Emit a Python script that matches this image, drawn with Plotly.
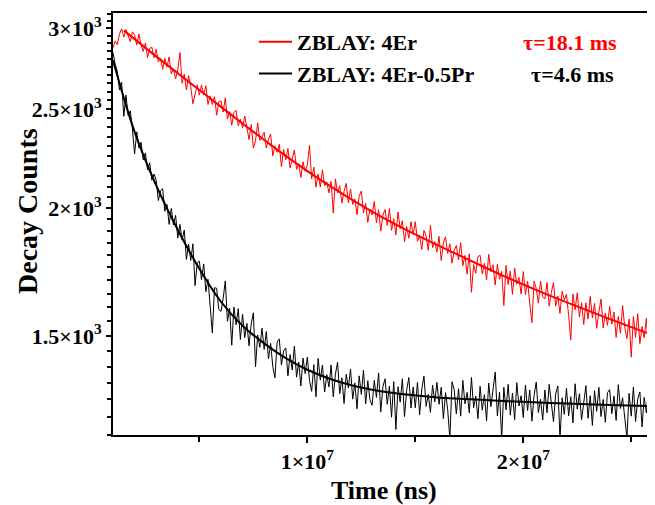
import numpy as np
import plotly.graph_objects as go

# sampling grid (ns): 1.0e6 ... 26.1e6 in steps of 1e5
time_ns = np.round(np.arange(1.0, 26.15, 0.1), 1) * 1e6

er_raw = [
    2870, 2915, 2890, 2960, 2995, 2940, 2990, 2945, 2910, 2975,
    2955, 2888, 2961, 2889, 2847, 2900, 2808, 2866, 2874, 2807,
    2860, 2780, 2804, 2734, 2803, 2748, 2812, 2707, 2736, 2676,
    2730, 2840, 2650, 2705, 2610, 2695, 2630, 2530, 2595, 2640,
    2580, 2640, 2580, 2635, 2526, 2576, 2526, 2571, 2466, 2542,
    2547, 2483, 2564, 2444, 2485, 2411, 2482, 2493, 2408, 2444,
    2395, 2461, 2398, 2334, 2415, 2290, 2328, 2424, 2330, 2347,
    2373, 2290, 2336, 2363, 2250, 2301, 2268, 2310, 2196, 2283,
    2230, 2288, 2190, 2243, 2280, 2183, 2210, 2143, 2220, 2173,
    2205, 2303, 2136, 2194, 2097, 2160, 2098, 2181, 2104, 2122,
    2070, 2124, 1978, 2136, 2070, 2104, 2023, 2077, 2115, 2024,
    2088, 2017, 2041, 1971, 2055, 2079, 1978, 2022, 1937, 1996,
    1970, 2030, 1935, 1994, 1899, 1969, 1994, 1924, 1998, 1903,
    1953, 1883, 1983, 1909, 1944, 1854, 1919, 1869, 1940, 1885,
    1940, 1856, 1881, 1822, 1902, 1878, 1819, 1924, 1830, 1855,
    1811, 1877, 1778, 1849, 1875, 1806, 1846, 1767, 1818, 1839,
    1780, 1851, 1757, 1798, 1724, 1805, 1655, 1761, 1727, 1793,
    1799, 1725, 1766, 1702, 1803, 1734, 1761, 1682, 1763, 1704,
    1735, 1606, 1758, 1684, 1736, 1647, 1748, 1685, 1711, 1648,
    1734, 1646, 1697, 1614, 1545, 1697, 1669, 1615, 1697, 1638,
    1630, 1692, 1604, 1655, 1692, 1604, 1641, 1578, 1659, 1626,
    1648, 1570, 1487, 1649, 1591, 1653, 1565, 1617, 1539, 1616,
    1558, 1640, 1562, 1614, 1526, 1583, 1630, 1527, 1579, 1536,
    1603, 1540, 1583, 1495, 1567, 1509, 1606, 1529, 1491, 1558,
    1430, 1567, 1495, 1577, 1474, 1532, 1494, 1561, 1449, 1516,
    1543, 1525,
]

erpr_raw = [
    2840, 2765, 2720, 2610, 2655, 2460, 2580, 2465, 2490, 2390,
    2260, 2375, 2290, 2320, 2230, 2265, 2180, 2215, 2130, 2160,
    2130, 2035, 2080, 2090, 1986, 2017, 1928, 1999, 1926, 1968,
    1870, 1928, 1861, 1904, 1782, 1845, 1778, 1846, 1680, 1767,
    1775, 1702, 1764, 1657, 1704, 1617, 1510, 1672, 1670, 1592,
    1585, 1631, 1698, 1550, 1597, 1469, 1601, 1538, 1595, 1488,
    1575, 1494, 1543, 1467, 1541, 1580, 1399, 1503, 1462, 1526,
    1455, 1515, 1425, 1475, 1400, 1365, 1480, 1490, 1405, 1450,
    1460, 1371, 1438, 1389, 1466, 1367, 1414, 1340, 1427, 1378,
    1430, 1357, 1324, 1406, 1308, 1426, 1358, 1405, 1322, 1375,
    1337, 1405, 1308, 1376, 1414, 1317, 1365, 1288, 1376, 1334,
    1392, 1301, 1349, 1273, 1371, 1315, 1389, 1287, 1356, 1299,
    1283, 1357, 1306, 1380, 1264, 1338, 1362, 1286, 1340, 1249,
    1353, 1215, 1338, 1292, 1362, 1251, 1327, 1366, 1275, 1337,
    1276, 1351, 1256, 1331, 1370, 1280, 1315, 1263, 1343, 1293,
    1351, 1286, 1336, 1245, 1320, 1270, 1190, 1353, 1329, 1258,
    1332, 1252, 1357, 1287, 1321, 1261, 1366, 1276, 1310, 1245,
    1339, 1269, 1314, 1239, 1349, 1279, 1333, 1383, 1253, 1322,
    1188, 1336, 1270, 1345, 1255, 1319, 1242, 1350, 1281, 1311,
    1248, 1343, 1268, 1328, 1238, 1312, 1352, 1262, 1301, 1241,
    1328, 1262, 1345, 1280, 1236, 1316, 1340, 1190, 1305, 1257,
    1333, 1253, 1308, 1233, 1347, 1272, 1317, 1242, 1297, 1341,
    1246, 1311, 1226, 1326, 1266, 1336, 1251, 1300, 1235, 1320,
    1329, 1259, 1310, 1240, 1344, 1274, 1305, 1250, 1192, 1318,
    1252, 1337, 1237, 1302, 1322, 1222, 1306, 1261, 1326, 1246,
    1195, 1360,
]

er_fit_t = [1.5e6, 3e6, 5e6, 7e6, 9e6, 11e6, 13e6, 15e6, 17e6, 19e6, 21e6, 23e6, 25e6, 26.1e6]
er_fit_v = [2985, 2815, 2610, 2420, 2250, 2105, 1985, 1885, 1800, 1720, 1650, 1588, 1530, 1500]

erpr_fit_t = [1e6, 2e6, 3e6, 4e6, 5e6, 6e6, 7e6, 8e6, 9e6, 10e6, 11e6, 12e6, 13e6, 14e6,
              15e6, 16e6, 18e6, 20e6, 22e6, 24e6, 26.1e6]
erpr_fit_v = [2790, 2375, 2105, 1905, 1745, 1620, 1535, 1475, 1427, 1390, 1363, 1343, 1329, 1319,
              1312, 1306, 1299, 1293, 1288, 1284, 1280]

x_major = [1e7, 2e7]
x_major_text = ["1×10<sup>7</sup>", "2×10<sup>7</sup>"]
x_minor = [5e6, 1.5e7, 2.5e7]
y_major = [1500, 2000, 2500, 3000]
y_major_text = ["1.5×10<sup>3</sup>", "2×10<sup>3</sup>", "2.5×10<sup>3</sup>", "3×10<sup>3</sup>"]
y_minor = [v for v in range(1200, 3101, 50) if v not in y_major]

label_er = "ZBLAY: 4Er"
label_erpr = "ZBLAY: 4Er-0.5Pr"
tau_er = "τ=18.1 ms"
tau_erpr = "τ=4.6 ms"

FONT = "Liberation Serif"
RED = "#FF0000"
BLACK = "#000000"

fig = go.Figure()
fig.add_trace(go.Scatter(x=time_ns, y=er_raw, mode="lines", line=dict(color=RED, width=1),
                         showlegend=False, hoverinfo="skip"))
fig.add_trace(go.Scatter(x=er_fit_t, y=er_fit_v, mode="lines", line=dict(color=RED, width=2, shape="spline"),
                         name=label_er))
fig.add_trace(go.Scatter(x=time_ns, y=erpr_raw, mode="lines", line=dict(color=BLACK, width=1),
                         showlegend=False, hoverinfo="skip"))
fig.add_trace(go.Scatter(x=erpr_fit_t, y=erpr_fit_v, mode="lines", line=dict(color=BLACK, width=2, shape="spline"),
                         name=label_erpr))

# the page has an 8px body margin; lay the figure out in page pixels
OFF = 8
W, H = 655 - OFF, 505 - OFF
L, R, T, B = 113 - OFF, 0, 13 - OFF, 505 - 435
pw, ph = W - L - R, H - T - B

def px(xp):
    return (xp - OFF - L) / pw

def py(yp):
    return 1 - (yp - OFF - T) / ph

fig.update_layout(
    width=W, height=H,
    margin=dict(l=L, r=R, t=T, b=B, autoexpand=False),
    paper_bgcolor="white", plot_bgcolor="white",
    font=dict(family=FONT, color="black", size=22, weight="bold"),
    legend=dict(x=px(254), y=py(21), xanchor="left", yanchor="top",
                bgcolor="rgba(0,0,0,0)", font=dict(family=FONT, size=22, weight="bold"),
                itemwidth=33, tracegroupgap=0),
    xaxis=dict(
        range=[1e6, 2.61e7], showgrid=False, zeroline=False,
        showline=True, linecolor="black", linewidth=2, mirror=True,
        ticks="outside", ticklen=6, tickwidth=1.5, tickcolor="black",
        tickmode="array", tickvals=x_major, ticktext=x_major_text,
        tickfont=dict(family=FONT, size=22, weight="bold"),
        minor=dict(tickmode="array", tickvals=x_minor, ticks="outside", ticklen=5,
                   tickwidth=1.5, tickcolor="black", showgrid=False),
    ),
    yaxis=dict(
        type="log", range=[np.log10(1200), np.log10(3104)], showgrid=False, zeroline=False,
        showline=True, linecolor="black", linewidth=2, mirror=False,
        ticks="outside", ticklen=5, tickwidth=1.5, tickcolor="black",
        tickmode="array", tickvals=y_major, ticktext=y_major_text,
        tickfont=dict(family=FONT, size=22, weight="bold"),
        minor=dict(tickmode="array", tickvals=y_minor, ticks="outside", ticklen=4,
                   tickwidth=1.5, tickcolor="black", showgrid=False),
    ),
    annotations=[
        dict(x=px(570), y=py(43), xref="paper", yref="paper", text=tau_er, showarrow=False,
             font=dict(family=FONT, size=22, color=RED, weight="bold"), xanchor="center", yanchor="middle"),
        dict(x=px(572), y=py(75), xref="paper", yref="paper", text=tau_erpr, showarrow=False,
             font=dict(family=FONT, size=22, color=BLACK, weight="bold"), xanchor="center", yanchor="middle"),
        dict(x=px(384), y=py(490), xref="paper", yref="paper", text="Time (ns)", showarrow=False,
             font=dict(family=FONT, size=26, color=BLACK, weight="bold"), xanchor="center", yanchor="middle"),
        dict(x=px(27), y=py(211), xref="paper", yref="paper", text="Decay Counts", showarrow=False,
             textangle=-90, font=dict(family=FONT, size=28, color=BLACK, weight="bold"),
             xanchor="center", yanchor="middle"),
    ],
)

fig.write_html("out.html")
